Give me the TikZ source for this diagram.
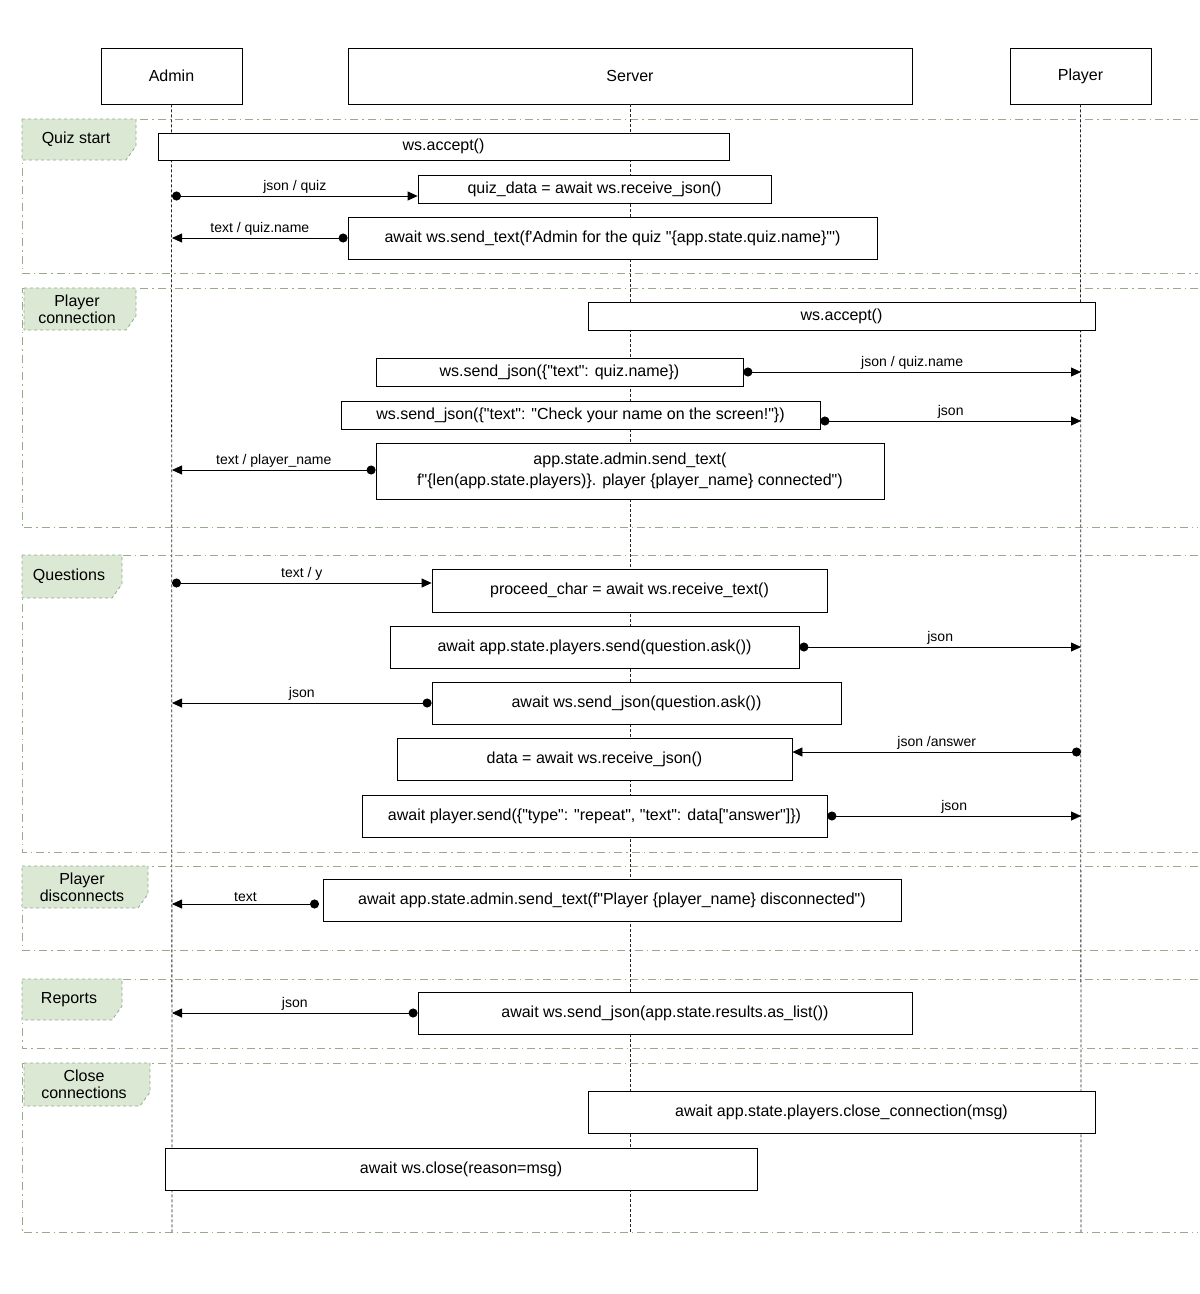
\documentclass[tikz,border=0pt]{standalone}
\usepackage{fontspec}
\newfontfamily\lsans{Liberation Sans}
\usetikzlibrary{arrows.meta}
\definecolor{fr}{RGB}{150,170,140}
\definecolor{lf}{RGB}{218,232,212}
\begin{document}
\begin{tikzpicture}[x=1pt,y=-1pt,font=\lsans\fontsize{16}{19}\selectfont,
 box/.style={draw,thick,fill=white,inner sep=0pt},
 life/.style={thick,densely dashed,black!85},
 frame/.style={draw=fr,thick,dash pattern=on 8pt off 4pt on 1.5pt off 4pt},
 lab/.style={fill=lf,draw=fr,thick,dashed},
 msg/.style={thick,{Circle[length=9pt]}-{Triangle[length=10pt,width=9pt]}},
 ml/.style={font=\lsans\fontsize{14}{16}\selectfont,above,inner sep=2pt}]
\useasboundingbox (0,0) rectangle (1200,1294);
\fill[white] (0,0) rectangle (1200,1294);
% frames
\foreach \a/\b in {119/273,288/527,555/852,866/950,979/1048,1063/1232}{
 \draw[frame] (1198,\a) -- (22,\a) -- (22,\b) -- (1198,\b);}
% labels
\newcommand\flab[5]{\draw[lab] (#1,#2) -- (#3,#2) -- (#3,#4-14) -- (#3-10,#4) -- (#1,#4) -- cycle;
 \node[align=center,inner sep=0pt] at ({(#1+#3)/2-3},{(#2+#4)/2}) {#5};}
\flab{22}{119}{136}{160}{Quiz start}
\flab{24}{288}{136}{330}{Player\\[-2pt]connection}
\flab{22}{555}{122}{598}{Questions}
\flab{22}{866}{148}{908}{Player\\[-2pt]disconnects}
\flab{22}{979}{122}{1020}{Reports}
\flab{24}{1063}{150}{1106}{Close\\[-2pt]connections}
% lifelines
\node[box,minimum width=141pt,minimum height=56pt] (A) at (171.5,76) {Admin};
\node[box,minimum width=564pt,minimum height=56pt] (S) at (630,76) {Server};
\node[box,minimum width=141pt,minimum height=56pt] (P) at (1080.5,76) {Player};
\coordinate (Ae) at (172,1232);\coordinate (Se) at (630,1232);\coordinate (Pe) at (1081,1232);
\draw[life] (A.south) -- (Ae); \draw[life] (S.south) -- (Se); \draw[life] (P.south) -- (Pe);
% boxes
\newcommand\bx[6]{\node[box,minimum width={#3-#2},minimum height={#5-#4}] (#1) at ({(#2+#3)/2},{(#4+#5)/2}) {#6};}
\bx{b1}{158}{729}{133}{160}{ws.accept()}
\bx{b2}{418}{771}{175}{203}{quiz\_data = await ws.receive\_json()}
\bx{b3}{348}{877}{217}{259}{await ws.send\_text(f'Admin for the quiz "\{app.state.quiz.name\}"')}
\bx{b4}{588}{1095}{302}{330}{ws.accept()}
\bx{b5}{376}{743}{358}{386}{ws.send\_json(\{"text": quiz.name\})}
\bx{b6}{341}{820}{401}{429}{ws.send\_json(\{"text": "Check your name on the screen!"\})}
\node[box,minimum width=508pt,minimum height=56pt,align=center] (b7) at (630,471) {app.state.admin.send\_text(\\[2pt]f"\{len(app.state.players)\}. player \{player\_name\} connected")};
\bx{b8}{432}{827}{569}{612}{proceed\_char = await ws.receive\_text()}
\bx{b9}{390}{799}{626}{668}{await app.state.players.send(question.ask())}
\bx{b10}{432}{841}{682}{724}{await ws.send\_json(question.ask())}
\bx{b11}{397}{792}{738}{780}{data = await ws.receive\_json()}
\bx{b12}{362}{827}{795}{837}{await player.send(\{"type": "repeat", "text": data["answer"]\})}
\bx{b13}{323}{901}{879}{921}{await app.state.admin.send\_text(f"Player \{player\_name\} disconnected")}
\bx{b14}{418}{912}{992}{1034}{await ws.send\_json(app.state.results.as\_list())}
\bx{b15}{588}{1095}{1091}{1133}{await app.state.players.close\_connection(msg)}
\bx{b16}{165}{757}{1148}{1190}{await ws.close(reason=msg)}
% messages
\coordinate (a1) at (172,196); \draw[msg] (a1) -- node[ml]{json / quiz} (b2.west|-a1);
\coordinate (a2) at (172,238); \draw[msg] (b3.west|-a2) -- node[ml]{text / quiz.name} (a2);
\coordinate (p1) at (1081,372); \draw[msg] (b5.east|-p1) -- node[ml]{json / quiz.name} (p1);
\coordinate (p2) at (1081,421); \draw[msg] (b6.east|-p2) -- node[ml]{json} (p2);
\coordinate (a3) at (172,470); \draw[msg] (b7.west|-a3) -- node[ml]{text / player\_name} (a3);
\coordinate (a4) at (172,583); \draw[msg] (a4) -- node[ml]{text / y} (b8.west|-a4);
\coordinate (p3) at (1081,647); \draw[msg] (b9.east|-p3) -- node[ml]{json} (p3);
\coordinate (a5) at (172,703); \draw[msg] (b10.west|-a5) -- node[ml]{json} (a5);
\coordinate (p4) at (1081,752); \draw[msg] (p4) -- node[ml]{json /answer} (b11.east|-p4);
\coordinate (p5) at (1081,816); \draw[msg] (b12.east|-p5) -- node[ml]{json} (p5);
\coordinate (a6) at (172,904); \draw[msg] (319,904) -- node[ml]{text} (a6);
\coordinate (a7) at (172,1013); \draw[msg] (b14.west|-a7) -- node[ml]{json} (a7);
\end{tikzpicture}
\end{document}
